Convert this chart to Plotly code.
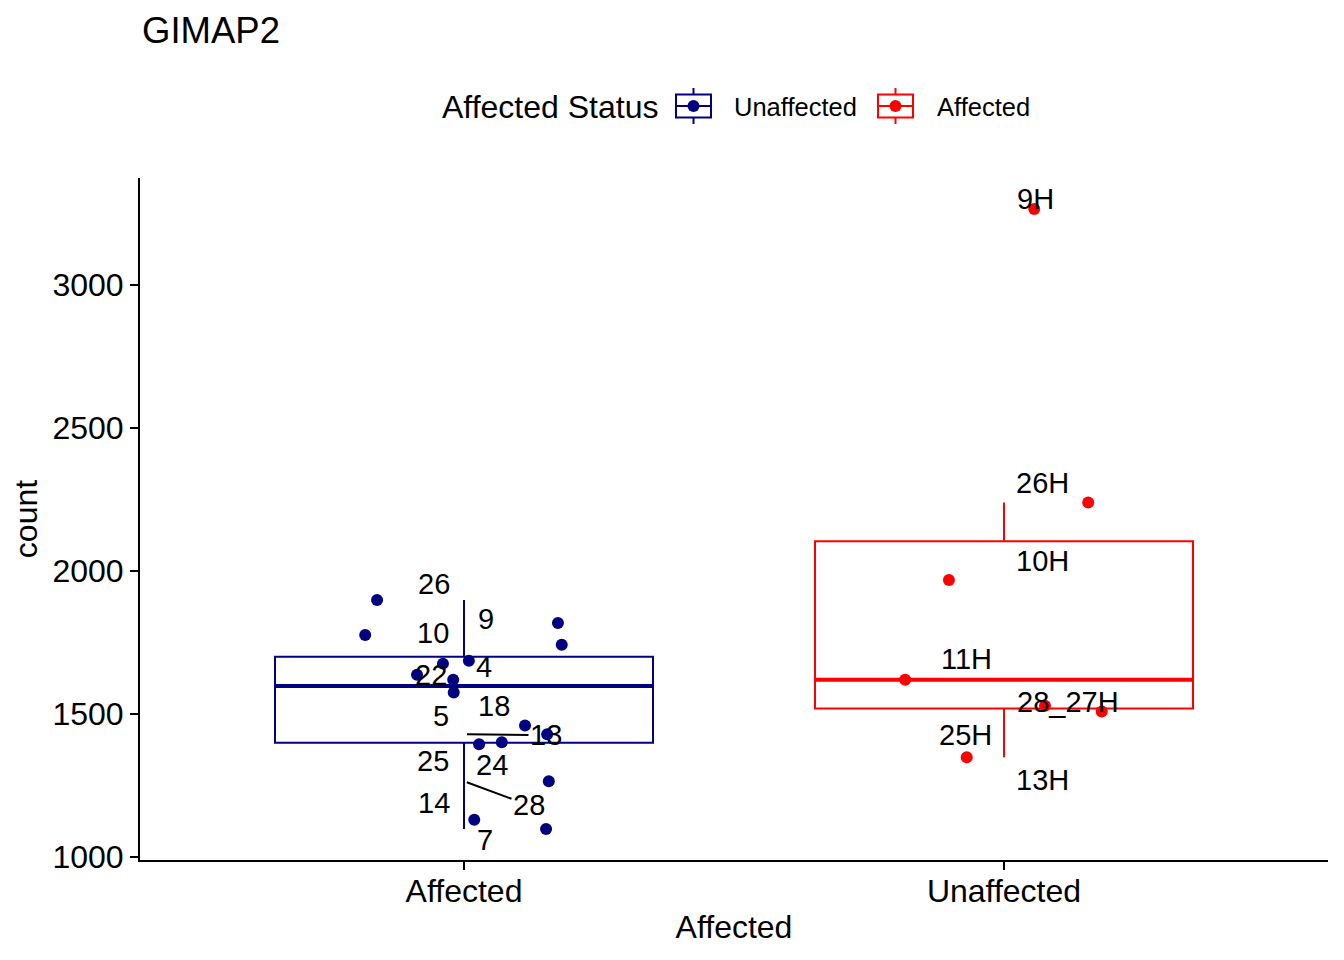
import numpy as np
import plotly.graph_objects as go

# ---------------- data ----------------
categories = ["Affected", "Unaffected"]
legend_names = ["Unaffected", "Affected"]
colors = ["#000080", "#FF0000"]

aff_ids = ["26", "10", "9", "", "", "4", "22", "", "5", "18", "13", "25", "24", "28", "14", "7"]
aff_counts = [1897, 1775, 1817, 1741, 1675, 1685, 1636, 1619, 1574, 1459, 1428, 1393, 1400, 1264, 1129, 1097]
aff_jitter = [-0.161, -0.183, 0.174, 0.181, -0.039, 0.009, -0.087, -0.020, -0.019, 0.113,
              0.154, 0.028, 0.070, 0.157, 0.019, 0.152]

unaff_ids = ["9H", "26H", "10H", "11H", "28_27H", "25H", "13H"]
unaff_counts = [3264, 2238, 1967, 1619, 1528, 1508, 1348]
unaff_jitter = [0.056, 0.156, -0.102, -0.183, 0.076, 0.181, -0.069]

y_ticks = [1000, 1500, 2000, 2500, 3000]

# ---------------- label placement (repel offsets, pixels; seg = draw segment) ----------------
aff_label_offsets = [(-30, -16, 0), (-31, -2, 0), (22, -4, 0), None, None, (20, 6, 0), (-33, 0, 0), None,
                     (-23, 23, 0), (30, -19, 0), (82, 1, 1), (-31, 17, 0), (28, 23, 0), (65, 24, 1),
                     (-30, -17, 0), (21, 11, 0)]
unaff_label_offsets = [(31, -10, 0), (38, -20, 0), (38, -19, 0), (-38, -21, 0), (64, -4, 0),
                       (-39, 24, 0), (38, 23, 0)]

FONT = "Liberation Sans, Arial, Helvetica, sans-serif"

# page has an 8px body margin; figure is sized so the plot lands where the reference has it
W, H = 1336, 952
ML, MR, MT, MB = 132, 16, 170, 100
PW, PH = W - ML - MR, H - MT - MB


def px_to_paper(X, Y):
    # screen pixel (with 8px page offset) -> paper coords
    return (X - 8 - ML) / PW, (H - MB - (Y - 8)) / PH


fig = go.Figure()
groups = [(aff_counts, aff_jitter, aff_ids, aff_label_offsets),
          (unaff_counts, unaff_jitter, unaff_ids, unaff_label_offsets)]

annotations = []
shapes = []
all_vals = []
for i, (vals, jit, ids, offs) in enumerate(groups):
    v = np.array(vals, float)
    all_vals.extend(vals)
    q1, med, q3 = np.percentile(v, [25, 50, 75])
    iqr = q3 - q1
    lo = v[v >= q1 - 1.5 * iqr].min()
    hi = v[v <= q3 + 1.5 * iqr].max()
    xpos = i + 1
    fig.add_trace(go.Box(
        x=[xpos], q1=[q1], median=[med], q3=[q3], lowerfence=[lo], upperfence=[hi],
        width=0.7, whiskerwidth=0, boxpoints=False,
        line=dict(color=colors[i], width=2), fillcolor="rgba(255,255,255,0)",
        name=legend_names[i], showlegend=False, hoverinfo="skip"))
    fig.add_trace(go.Scatter(
        x=[xpos - 0.35, xpos + 0.35], y=[med, med], mode="lines",
        line=dict(color=colors[i], width=4), showlegend=False, hoverinfo="skip"))

for i, (vals, jit, ids, offs) in enumerate(groups):
    xpos = i + 1
    fig.add_trace(go.Scatter(
        x=[xpos + j for j in jit], y=vals, mode="markers",
        marker=dict(color=colors[i], size=12), showlegend=False,
        text=ids, hoverinfo="text+y"))
    for val, lab, off in zip(vals, ids, offs):
        if not lab or off is None:
            continue
        dx, dy, seg = off
        if seg:
            annotations.append(dict(
                x=xpos, y=val, xref="x", yref="y", text=lab, showarrow=True,
                ax=dx, ay=dy, axref="pixel", ayref="pixel", arrowhead=0, arrowwidth=2,
                arrowcolor="black", standoff=3, font=dict(size=29, color="black", family=FONT)))
        else:
            annotations.append(dict(
                x=xpos, y=val, xref="x", yref="y", text=lab, showarrow=False,
                xshift=dx, yshift=-dy, xanchor="center", yanchor="middle",
                font=dict(size=29, color="black", family=FONT)))

# ---------------- manual legend (ggplot style keys) ----------------
leg_y = 107
tx, ty = px_to_paper(440, leg_y)
annotations.append(dict(x=tx, y=ty, xref="paper", yref="paper", text="Affected Status",
                        showarrow=False, xanchor="left", yanchor="middle",
                        font=dict(size=32, color="black", family=FONT)))
key_centers = [693.5, 895.5]
label_lefts = [732, 935]
for i in range(2):
    kx, ky = px_to_paper(key_centers[i], 106)
    c = colors[i]
    common = dict(xref="paper", yref="paper", xsizemode="pixel", ysizemode="pixel",
                  xanchor=kx, yanchor=ky)
    shapes.append(dict(type="rect", x0=-17.5, x1=17.5, y0=-11.5, y1=11.5,
                       line=dict(color=c, width=2), fillcolor="white", **common))
    shapes.append(dict(type="line", x0=-17.5, x1=17.5, y0=0, y1=0,
                       line=dict(color=c, width=2), **common))
    shapes.append(dict(type="line", x0=0, x1=0, y0=11.5, y1=18,
                       line=dict(color=c, width=2), **common))
    shapes.append(dict(type="line", x0=0, x1=0, y0=-11.5, y1=-18,
                       line=dict(color=c, width=2), **common))
    shapes.append(dict(type="circle", x0=-6, x1=6, y0=-6, y1=6,
                       line=dict(color=c, width=0), fillcolor=c, **common))
    lx, ly = px_to_paper(label_lefts[i], leg_y)
    annotations.append(dict(x=lx, y=ly, xref="paper", yref="paper", text=legend_names[i],
                            showarrow=False, xanchor="left", yanchor="middle",
                            font=dict(size=25.5, color="black", family=FONT)))

vmin, vmax = min(all_vals), max(all_vals)
span = vmax - vmin
yrange = [vmin - 0.05 * span, vmax + 0.05 * span]

fig.update_layout(
    width=W, height=H,
    margin=dict(l=ML, r=MR, t=MT, b=MB, autoexpand=False),
    paper_bgcolor="white", plot_bgcolor="white",
    font=dict(family=FONT, color="black"),
    title=dict(text="GIMAP2", x=134 / W, xanchor="left", xref="container",
               y=1 - 22 / H, yanchor="middle", yref="container",
               font=dict(size=36.5, color="black", family=FONT)),
    annotations=annotations,
    shapes=shapes,
    showlegend=False,
)
fig.update_xaxes(
    range=[0.4, 2.6], tickvals=[1, 2], ticktext=categories, automargin=False,
    showline=True, linecolor="black", linewidth=2, mirror=False,
    ticks="outside", ticklen=8, tickwidth=2, tickcolor="black",
    showgrid=False, zeroline=False, ticklabelstandoff=-6,
    tickfont=dict(size=32, color="black", family=FONT),
    title=dict(text="Affected", font=dict(size=32, color="black", family=FONT), standoff=7))
fig.update_yaxes(
    range=yrange, tickvals=y_ticks, automargin=False,
    showline=True, linecolor="black", linewidth=2, mirror=False,
    ticks="outside", ticklen=8, tickwidth=2, tickcolor="black",
    showgrid=False, zeroline=False,
    tickfont=dict(size=32, color="black", family=FONT),
    title=dict(text="count", font=dict(size=32, color="black", family=FONT), standoff=11))

fig.write_html("out.html")
